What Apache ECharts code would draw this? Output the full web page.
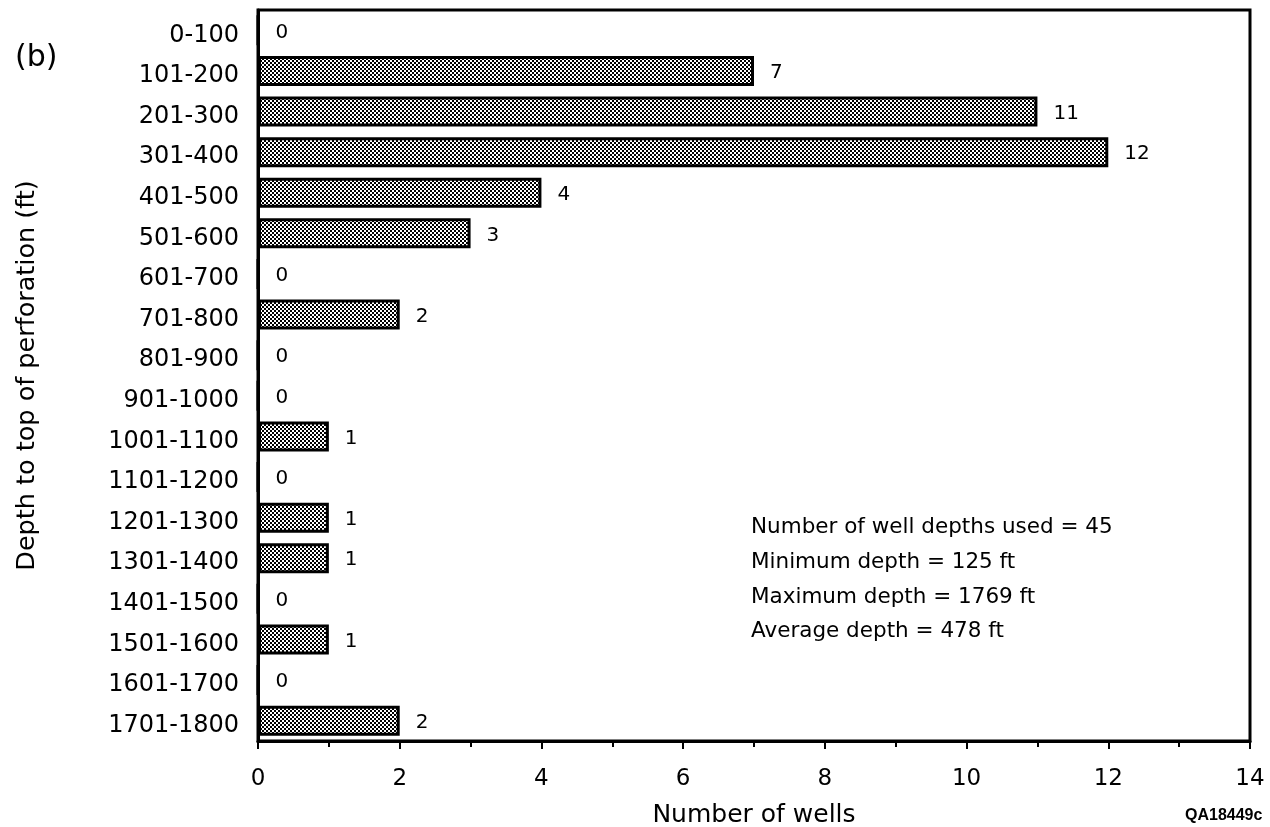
<!DOCTYPE html>
<html>
<head>
<meta charset="utf-8">
<script src="https://cdn.jsdelivr.net/npm/echarts@6/dist/echarts.min.js"></script>
<style>html,body{margin:0;padding:0;background:#fff}#c{width:1270px;height:827px}</style>
</head>
<body>
<div id="c"></div>
<script>
const categories = ['0-100','101-200','201-300','301-400','401-500','501-600','601-700','701-800','801-900','901-1000','1001-1100','1101-1200','1201-1300','1301-1400','1401-1500','1501-1600','1601-1700','1701-1800'];
const wellCounts = [0,7,11,12,4,3,0,2,0,0,1,0,1,1,0,1,0,2];
const xTicks = [0,2,4,6,8,10,12,14];
const statLines = ['Number of well depths used = 45','Minimum depth = 125 ft','Maximum depth = 1769 ft','Average depth = 478 ft'];
const panelTag = '(b)';
const figId = 'QA18449c';

const FONT = '"DejaVu Sans", "Liberation Sans", Arial, sans-serif';

// dotted fill pattern
const pat = document.createElement('canvas');
pat.width = 4; pat.height = 4;
const pc = pat.getContext('2d');
pc.fillStyle = '#fff'; pc.fillRect(0,0,4,4);
pc.fillStyle = '#000';
pc.fillRect(0,0,2,2); pc.fillRect(2,2,2,2);

const chart = echarts.init(document.getElementById('c'), null, {renderer:'canvas'});
const statY = [527, 562, 597, 631];
const statGraphics = statLines.map((t,i)=>({
  type:'text', x:751, y:statY[i],
  style:{text:t, font:'21.5px ' + FONT, fill:'#000', verticalAlign:'middle'}
}));
chart.setOption({
  animation:false,
  backgroundColor:'#fff',
  grid:{left:258, right:20, top:10, bottom:86, show:true, borderColor:'#000', borderWidth:3,
        backgroundColor:'transparent', containLabel:false, outerBoundsMode:'none'},
  xAxis:{
    type:'value', min:0, max:14, interval:2,
    name:'Number of wells', nameLocation:'middle', nameGap:62,
    nameTextStyle:{fontFamily:FONT, fontSize:25, color:'#000'},
    axisLine:{show:true, lineStyle:{color:'#000', width:3}},
    axisTick:{show:true, length:8, lineStyle:{color:'#000', width:2}},
    minorTick:{show:true, splitNumber:2, length:6, lineStyle:{color:'#000', width:2}},
    splitLine:{show:false},
    axisLabel:{fontFamily:FONT, fontSize:23, color:'#000', margin:27,
      formatter:v=> xTicks.indexOf(v) >= 0 ? String(v) : ''}
  },
  yAxis:{
    type:'category', data:categories, inverse:true,
    name:'Depth to top of perforation (ft)', nameLocation:'middle', nameGap:218,
    nameTextStyle:{fontFamily:FONT, fontSize:25.5, color:'#000'},
    axisLine:{show:true, lineStyle:{color:'#000', width:3}},
    axisTick:{show:false},
    axisLabel:{fontFamily:FONT, fontSize:24, color:'#000', margin:19, verticalAlign:'top', lineHeight:10}
  },
  series:[{
    type:'bar', data:wellCounts, barWidth:30,
    itemStyle:{color:{image:pat, repeat:'repeat'}, borderColor:'#000', borderWidth:3},
    label:{show:true, position:'right', distance:16, offset:[0,2], fontFamily:FONT, fontSize:20, color:'#000'}
  }],
  graphic:[
    {type:'text', x:15, y:58, style:{text:panelTag, font:'30px ' + FONT, fill:'#000', verticalAlign:'middle'}},
    {type:'text', x:1185, y:816, style:{text:figId, font:'bold 16px "Liberation Sans", Arial, sans-serif', fill:'#000', verticalAlign:'middle'}}
  ].concat(statGraphics)
});
</script>
</body>
</html>
